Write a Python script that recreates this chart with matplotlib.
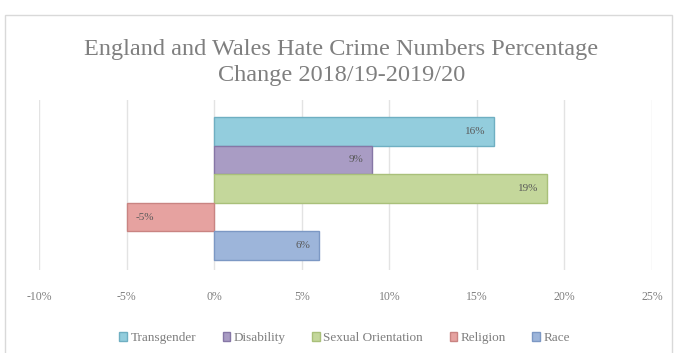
import numpy as np
import matplotlib.pyplot as plt
from matplotlib.patches import Rectangle, Patch

# data
series = ["Transgender", "Disability", "Sexual Orientation", "Religion", "Race"]
values = [16, 9, 19, -5, 6]
colors = ["#93CDDD", "#A99CC4", "#C4D79B", "#E6A2A0", "#9DB5DA"]
edges = ["#6FAFC2", "#8677A6", "#A9C07A", "#C98482", "#7C98C4"]
ticks = [-10, -5, 0, 5, 10, 15, 20, 25]
tick_labels = ["-10%", "-5%", "0%", "5%", "10%", "15%", "20%", "25%"]

plt.rcParams['font.family'] = ['Liberation Serif', 'DejaVu Serif']

fig = plt.figure(figsize=(6.76, 3.53), dpi=100)
fig.patch.set_facecolor("white")
# light chart border like the excel frame
fig.patches.append(Rectangle((5 / 676, -0.1), 667 / 676, 1.1 - 15 / 353,
                             transform=fig.transFigure, fill=False,
                             edgecolor="#D9D9D9", linewidth=1))

ax = fig.add_axes([39 / 676, 1 - 270 / 353, (652 - 39) / 676, 170 / 353])
y = np.arange(len(series))
ax.barh(y, values, height=1.0, color=colors, edgecolor=edges, linewidth=1, zorder=3)

for yi, v in zip(y, values):
    if v >= 0:
        ax.text(v - 0.5, yi, f"{v}%", ha="right", va="center",
                fontsize=8, color="#595959", zorder=4)
    else:
        ax.text(v + 0.5, yi, f"{v}%", ha="left", va="center",
                fontsize=8, color="#595959", zorder=4)

ax.set_xlim(-10, 25)
ax.set_ylim(4.85, -1.1)
ax.set_xticks(ticks)
ax.set_xticklabels(tick_labels, fontsize=8.5, color="#7F7F7F")
ax.set_yticks([])
ax.tick_params(axis="x", length=0, pad=15)
ax.grid(True, axis="x", color="#E3E3E3", linewidth=1, zorder=0)
for s in ax.spines.values():
    s.set_visible(False)

fig.text(0.505, 1 - 50 / 353, "England and Wales Hate Crime Numbers Percentage",
         ha="center", va="center", fontsize=17.5, color="#7F7F7F")
fig.text(0.505, 1 - 75 / 353, "Change 2018/19-2019/20",
         ha="center", va="center", fontsize=17.5, color="#7F7F7F")

handles = [Patch(facecolor=c, edgecolor=e) for c, e in zip(colors, edges)]
fig.legend(handles, series, loc="center", bbox_to_anchor=(0.51, 1 - 338 / 353),
           ncol=5, frameon=False, fontsize=9.5, handlelength=0.6, handleheight=0.6,
           handletextpad=0.25, columnspacing=2.0, labelcolor="#7F7F7F")

fig.savefig("out.png", dpi=100)
